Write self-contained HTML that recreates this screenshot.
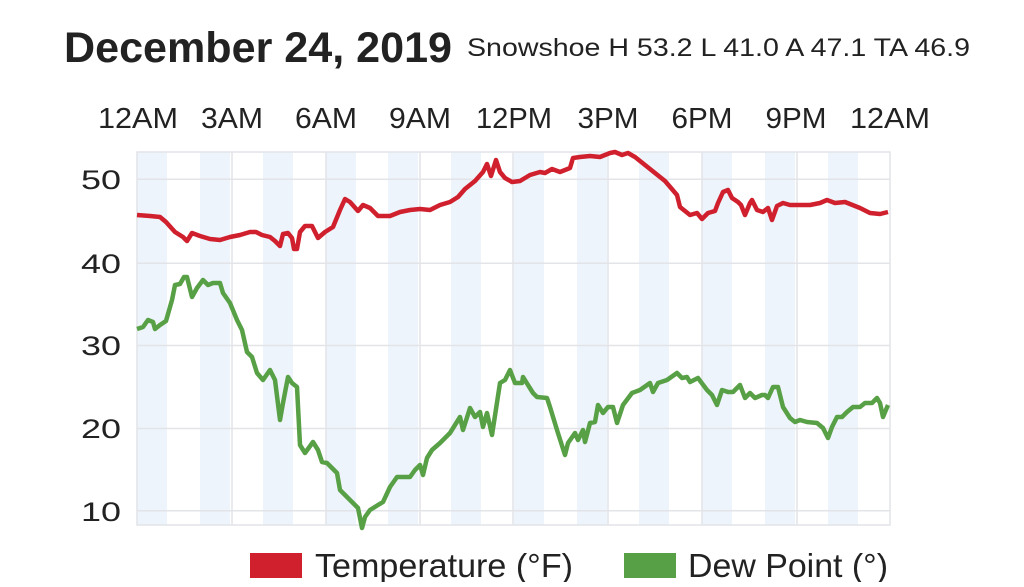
<!DOCTYPE html>
<html><head><meta charset="utf-8"><style>
body{margin:0;background:#fff;width:1024px;height:582px;overflow:hidden;font-family:"Liberation Sans",sans-serif;}
</style></head><body>
<svg width="1024" height="582" viewBox="0 0 1024 582" xmlns="http://www.w3.org/2000/svg" font-family="Liberation Sans, sans-serif">
<text x="64" y="62" font-size="43" font-weight="bold" fill="#222" textLength="388" lengthAdjust="spacingAndGlyphs">December 24, 2019</text>
<text x="467" y="56" font-size="25" fill="#222" textLength="503" lengthAdjust="spacingAndGlyphs">Snowshoe H 53.2 L 41.0 A 47.1 TA 46.9</text>
<g font-size="29" fill="#222" text-anchor="middle">
<text x="138" y="128" textLength="80" lengthAdjust="spacingAndGlyphs">12AM</text><text x="232" y="128" textLength="62" lengthAdjust="spacingAndGlyphs">3AM</text><text x="326" y="128" textLength="62" lengthAdjust="spacingAndGlyphs">6AM</text><text x="420" y="128" textLength="62" lengthAdjust="spacingAndGlyphs">9AM</text><text x="514" y="128" textLength="76" lengthAdjust="spacingAndGlyphs">12PM</text><text x="608" y="128" textLength="61" lengthAdjust="spacingAndGlyphs">3PM</text><text x="702" y="128" textLength="61" lengthAdjust="spacingAndGlyphs">6PM</text><text x="796" y="128" textLength="61" lengthAdjust="spacingAndGlyphs">9PM</text><text x="890" y="128" textLength="80" lengthAdjust="spacingAndGlyphs">12AM</text>
</g>
<g fill="#eef4fb">
<rect x="137" y="152" width="30" height="373"/><rect x="200" y="152" width="30" height="373"/><rect x="263" y="152" width="30" height="373"/><rect x="326" y="152" width="30" height="373"/><rect x="388" y="152" width="30" height="373"/><rect x="451" y="152" width="30" height="373"/><rect x="514" y="152" width="30" height="373"/><rect x="577" y="152" width="30" height="373"/><rect x="639" y="152" width="30" height="373"/><rect x="702" y="152" width="30" height="373"/><rect x="765" y="152" width="30" height="373"/><rect x="828" y="152" width="30" height="373"/>
</g>
<g stroke="#e2e4e8" stroke-width="1.5" fill="none">
<rect x="137" y="152" width="753" height="373"/>
<line x1="137" x2="890" y1="179.3" y2="179.3"/><line x1="137" x2="890" y1="263.3" y2="263.3"/><line x1="137" x2="890" y1="345.5" y2="345.5"/><line x1="137" x2="890" y1="428.5" y2="428.5"/><line x1="137" x2="890" y1="510.7" y2="510.7"/>
<line x1="232" x2="232" y1="152" y2="525"/><line x1="326" x2="326" y1="152" y2="525"/><line x1="420" x2="420" y1="152" y2="525"/><line x1="513" x2="513" y1="152" y2="525"/><line x1="608" x2="608" y1="152" y2="525"/><line x1="702" x2="702" y1="152" y2="525"/><line x1="797" x2="797" y1="152" y2="525"/>
</g>
<g font-size="27" fill="#222" text-anchor="end">
<text x="121" y="189" textLength="40" lengthAdjust="spacingAndGlyphs">50</text><text x="121" y="273" textLength="40" lengthAdjust="spacingAndGlyphs">40</text><text x="121" y="355" textLength="40" lengthAdjust="spacingAndGlyphs">30</text><text x="121" y="438" textLength="40" lengthAdjust="spacingAndGlyphs">20</text><text x="121" y="521" textLength="40" lengthAdjust="spacingAndGlyphs">10</text>
</g>
<polyline fill="none" stroke="#d0202e" stroke-width="4.5" stroke-linejoin="round" points="137,215 150,216 160,217 166,222 175,232 183,237 187,241 192,233 200,236 210,239 220,240 230,237 240,235 250,232 256,232 262,235 270,237 275,241 280,246 283,234 288,233 292,238 294,249 297,249 300,232 305,226 312,226 318,238 325,232 333,227 340,210 345,199 350,202 358,211 363,205 370,208 378,216 390,216 400,212 410,210 420,209 430,210 440,205 450,202 458,197 465,189 475,181 483,172 487,164 491,176 496,160 500,172 505,178 512,182 520,181 530,175 540,172 545,173 552,169 560,172 570,168 573,158 580,157 590,156 600,157 610,153 615,152 622,155 628,153 635,157 645,165 655,173 665,181 677,195 680,207 690,215 697,213 702,219 708,213 715,211 718,203 723,192 728,190 732,198 738,202 741,205 745,215 750,203 752,200 757,210 763,212 768,208 772,220 777,206 783,203 790,205 800,205 810,205 820,203 827,200 835,203 845,202 860,208 870,213 880,214 888,212"/>
<polyline fill="none" stroke="#58a046" stroke-width="4.5" stroke-linejoin="round" points="137,329 143,327 148,320 153,322 155,329 160,325 166,321 172,300 175,285 180,284 184,277 187,277 192,297 197,288 203,280 208,285 213,283 220,283 223,293 230,303 237,320 242,330 247,352 252,357 257,373 263,380 270,370 275,380 280,420 283,403 288,377 292,383 297,387 300,445 305,453 313,442 318,450 322,462 327,463 332,468 337,473 340,490 347,497 353,503 358,508 362,528 365,517 370,510 378,505 383,502 390,487 397,477 403,477 410,477 415,470 420,465 423,475 427,458 432,450 440,443 450,433 460,417 463,430 470,408 475,417 480,412 483,427 487,413 492,435 500,383 505,380 510,370 515,383 522,383 523,377 533,393 537,397 547,398 550,407 557,430 565,455 568,443 575,433 578,440 583,430 585,442 590,423 595,422 598,405 603,413 608,407 613,407 617,423 623,405 632,393 640,390 650,383 653,392 658,383 667,380 677,373 682,378 687,377 690,382 698,378 707,390 712,395 717,405 722,390 728,392 733,392 740,385 745,398 750,393 755,398 762,395 765,395 768,398 773,387 778,387 783,407 790,418 795,422 800,420 807,422 817,423 823,428 828,438 832,427 837,417 842,417 847,412 853,407 860,407 865,403 872,403 877,398 880,403 883,417 888,405"/>
<rect x="250" y="553" width="52" height="25" fill="#d0202e"/>
<text x="315" y="577" font-size="33" fill="#222" textLength="258" lengthAdjust="spacingAndGlyphs">Temperature (°F)</text>
<rect x="624" y="553" width="52" height="25" fill="#58a046"/>
<text x="688" y="577" font-size="33" fill="#222" textLength="200" lengthAdjust="spacingAndGlyphs">Dew Point (°)</text>
</svg>
</body></html>
